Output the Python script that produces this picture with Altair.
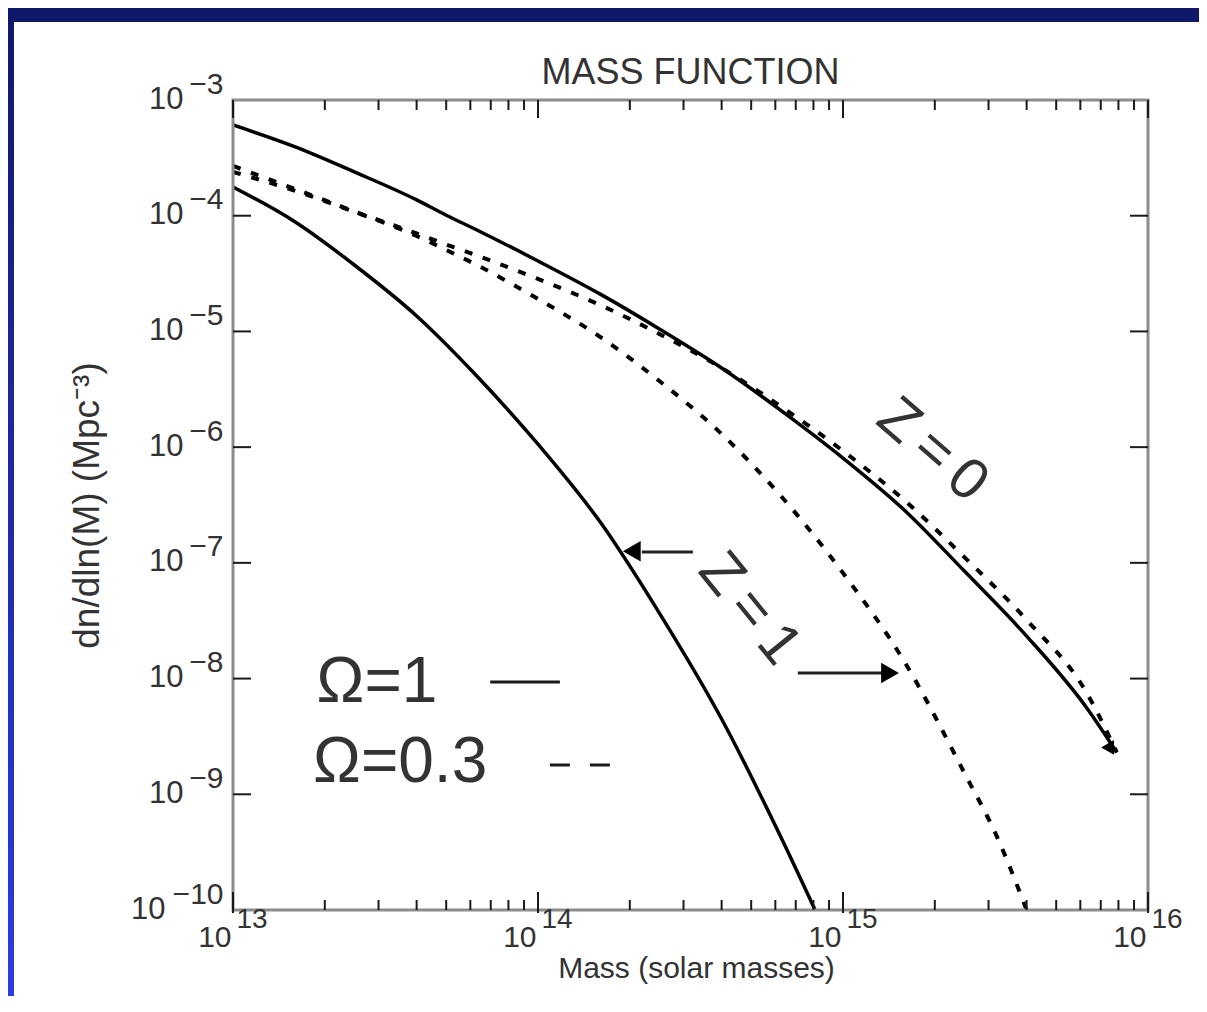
import altair as alt
import pandas as pd

# ---------------- texts ----------------
TITLE = "MASS FUNCTION"
X_TITLE = "Mass (solar masses)"
Y_TITLE = "dn/dln(M) (Mpc\u207b\u00b3)"
LEGEND_TEXT = ["\u03a9=1", "\u03a9=0.3"]
Z_TEXT = ["Z\u2009=\u20090", "Z\u2009=\u20091"]

# ---------------- axes ----------------
X_DOMAIN = [1e13, 1e16]
Y_DOMAIN = [1e-10, 1e-3]
X_LABELS = [1e13, 1e14, 1e15, 1e16]
Y_LABELS = [1e-3, 1e-4, 1e-5, 1e-6, 1e-7, 1e-8, 1e-9, 1e-10]
X_MAJOR = [1e13, 1e14, 1e15, 1e16]
X_MINOR = [2e13, 3e13, 4e13, 5e13, 6e13, 7e13, 8e13, 9e13,
           2e14, 3e14, 4e14, 5e14, 6e14, 7e14, 8e14, 9e14,
           2e15, 3e15, 4e15, 5e15, 6e15, 7e15, 8e15, 9e15]
Y_MAJOR = [1e-4, 1e-5, 1e-6, 1e-7, 1e-8, 1e-9]

# ---------------- curves ----------------
# Omega = 1, solid
M_O1_Z0 = [1e13, 1.6e13, 2.5e13, 4e13, 5e13, 6.3e13, 1e14, 1.6e14, 2.5e14, 4e14,
           6.3e14, 1e15, 1.6e15, 2.5e15, 4e15, 6.3e15, 7.9e15]
N_O1_Z0 = [6.08e-4, 3.93e-4, 2.39e-4, 1.37e-4, 1.01e-4, 7.53e-5, 4.06e-5, 2.10e-5,
           1.05e-5, 4.83e-6, 2.05e-6, 8.05e-7, 2.81e-7, 8.49e-8, 2.33e-8, 5.57e-9, 2.30e-9]
M_O1_Z1 = [1e13, 1.6e13, 2.5e13, 4e13, 6.3e13, 1e14, 1.6e14, 2.5e14, 4e14, 6.3e14, 8.1e14]
N_O1_Z1 = [1.77e-4, 8.83e-5, 3.75e-5, 1.36e-5, 4.12e-6, 1.06e-6, 2.25e-7, 3.68e-8,
           4.47e-9, 4.10e-10, 1.0e-10]
# Omega = 0.3, dashed
M_O03_Z0 = [1e13, 1.6e13, 2.5e13, 4e13, 5e13, 6.3e13, 1e14, 1.6e14, 2.5e14, 4e14,
            6.3e14, 1e15, 1.6e15, 2.5e15, 4e15, 6.3e15, 7.9e15]
N_O03_Z0 = [2.69e-4, 1.70e-4, 1.09e-4, 7.02e-5, 5.64e-5, 4.53e-5, 2.84e-5, 1.69e-5,
            9.51e-6, 4.83e-6, 2.22e-6, 9.27e-7, 3.42e-7, 1.12e-7, 3.21e-8, 7.50e-9, 2.30e-9]
M_O03_Z1 = [1e13, 1.6e13, 2.5e13, 4e13, 5e13, 6.3e13, 1e14, 1.6e14, 2.5e14, 4e14,
            6.3e14, 1e15, 1.6e15, 2.5e15, 3.2e15, 4e15]
N_O03_Z1 = [2.39e-4, 1.64e-4, 1.08e-4, 6.68e-5, 5.06e-5, 3.75e-5, 1.91e-5, 8.95e-6,
            3.73e-6, 1.30e-6, 3.71e-7, 8.17e-8, 1.36e-8, 1.53e-9, 4.28e-10, 1.0e-10]

# ---------------- annotations (data coordinates) ----------------
Z_LABEL_M = [1.96e15, 4.93e14]
Z_LABEL_N = [9.35e-7, 3.99e-8]
Z_LABEL_ANGLE = [41, 51]
LEGEND_M = [1.88e13, 1.83e13]
LEGEND_N = [6.27e-9, 1.28e-9]
LEG_SOLID_M = [6.97e13, 1.18e14]
LEG_SOLID_N = 9.33e-9
LEG_DASH_M = [1.094e14, 1.722e14]
LEG_DASH_N = 1.79e-9
ARROW_SHAFT_M1 = [2.19e14, 7.11e14]
ARROW_SHAFT_M2 = [3.22e14, 1.37e15]
ARROW_SHAFT_N = [1.24e-7, 1.117e-8]
ARROW_HEAD_M = [2.03e14, 1.426e15]
ARROW_HEAD_N = [1.26e-7, 1.117e-8]
ARROW_HEAD_SHAPE = ["triangle-left", "triangle-right"]
END_HEAD_M = [7.55e15]
END_HEAD_N = [2.45e-9]

W, H = 915, 810
FONT = "Liberation Sans"
TXT = "#333333"

xs = alt.Scale(type="log", domain=X_DOMAIN, nice=False)
ys = alt.Scale(type="log", domain=Y_DOMAIN, nice=False)


def frame(ms, ns, name):
    return pd.DataFrame({"mass": ms, "n": ns, "curve": name})


solid_df = pd.concat([frame(M_O1_Z0, N_O1_Z0, "O1 z0"), frame(M_O1_Z1, N_O1_Z1, "O1 z1")])
dashed_df = pd.concat([frame(M_O03_Z0, N_O03_Z0, "O03 z0"), frame(M_O03_Z1, N_O03_Z1, "O03 z1")])

one = pd.DataFrame({"k": [0]})

# background: blue gradient slide with a white panel
bg = alt.Chart(one).mark_rect(
    color=alt.Gradient(
        gradient="linear",
        stops=[alt.GradientStop(color="#10186a", offset=0),
               alt.GradientStop(color="#2c3ce2", offset=1)],
        x1=0, x2=0, y1=0, y2=1,
    )
).encode(x=alt.value(-225), x2=alt.value(W + 51), y=alt.value(-92), y2=alt.value(H + 86))

panel = alt.Chart(one).mark_rect(color="white").encode(
    x=alt.value(-219), x2=alt.value(W + 51), y=alt.value(-78), y2=alt.value(H + 86)
)

x_base_axis = alt.Axis(
    orient="bottom", values=X_LABELS, labelExpr="'10'", labelAlign="right",
    labelBaseline="middle", labelPadding=27, labelOffset=-2, labelFontSize=30,
    labelFont=FONT, labelColor=TXT, labelFlush=False, labelOverlap=False,
    ticks=False, tickSize=0, domain=False, grid=False, zindex=2,
    title=X_TITLE, titleFont=FONT, titleFontSize=30, titleFontWeight="normal",
    titleColor=TXT, titleX=463, titleY=58, titleAlign="center", titleBaseline="middle",
)
y_base_axis = alt.Axis(
    orient="left", values=Y_LABELS, labelExpr="'10'",
    labelAlign="right", labelBaseline="middle",
    labelPadding={"condition": {"test": "datum.value < 3e-10", "value": 68}, "value": 50},
    labelOffset=-1,
    labelFontSize=31, labelFont=FONT, labelColor=TXT, labelFlush=False, labelOverlap=False,
    ticks=False, tickSize=0, domain=False, grid=False, zindex=2,
    title=Y_TITLE, titleFont=FONT, titleFontSize=37, titleFontWeight="normal",
    titleColor=TXT, titleX=-146, titleY=405, titleAngle=270, titleAlign="center",
    titleBaseline="middle",
)
x_exp_axis = alt.Axis(
    orient="bottom", values=X_LABELS, labelExpr="'' + round(log(datum.value) / LN10)",
    labelAlign="left", labelBaseline="middle", labelPadding=9, labelOffset=3,
    labelFontSize=28, labelFont=FONT, labelColor=TXT, labelFlush=False, labelOverlap=False,
    ticks=False, tickSize=0, domain=False, grid=False, zindex=2, title=None,
)
y_exp_axis = alt.Axis(
    orient="left", values=Y_LABELS, labelExpr="'\u2212' + round(-log(datum.value) / LN10)",
    labelAlign="right", labelBaseline="middle", labelPadding=10, labelOffset=-16,
    labelFontSize=30, labelFont=FONT, labelColor=TXT, labelFlush=False, labelOverlap=False,
    ticks=False, tickSize=0, domain=False, grid=False, zindex=2, title=None,
)

solid = alt.Chart(solid_df).mark_line(
    color="black", strokeWidth=3.5, interpolate="monotone", clip=True
).encode(
    x=alt.X("mass:Q", scale=xs, axis=x_base_axis),
    y=alt.Y("n:Q", scale=ys, axis=y_base_axis),
    detail="curve:N",
)
dashed = alt.Chart(dashed_df).mark_line(
    color="black", strokeWidth=4, strokeDash=[8, 11], interpolate="monotone", clip=True
).encode(
    x=alt.X("mass:Q", scale=xs, axis=x_exp_axis),
    y=alt.Y("n:Q", scale=ys, axis=y_exp_axis),
    detail="curve:N",
)

# plot frame
box = alt.Chart(pd.DataFrame({"x0": [X_DOMAIN[0]], "x1": [X_DOMAIN[1]],
                              "y0": [Y_DOMAIN[0]], "y1": [Y_DOMAIN[1]]})).mark_rect(
    filled=False, stroke="#8c8c8c", strokeWidth=3
).encode(
    x=alt.X("x0:Q", scale=xs, axis=None), x2="x1:Q",
    y=alt.Y("y0:Q", scale=ys, axis=None), y2="y1:Q",
)

# inward ticks on all four sides
xmaj = pd.DataFrame({"v": X_MAJOR})
xmin = pd.DataFrame({"v": X_MINOR})
ymaj = pd.DataFrame({"v": Y_MAJOR})
TICK = dict(color="#1a1a1a", strokeWidth=2)
ticks = [
    alt.Chart(xmaj).mark_rule(**TICK).encode(x=alt.X("v:Q", scale=xs, axis=None), y=alt.value(H + 3), y2=alt.value(H - 18)),
    alt.Chart(xmaj).mark_rule(**TICK).encode(x=alt.X("v:Q", scale=xs, axis=None), y=alt.value(0), y2=alt.value(18)),
    alt.Chart(xmin).mark_rule(**TICK).encode(x=alt.X("v:Q", scale=xs, axis=None), y=alt.value(H), y2=alt.value(H - 10)),
    alt.Chart(xmin).mark_rule(**TICK).encode(x=alt.X("v:Q", scale=xs, axis=None), y=alt.value(0), y2=alt.value(10)),
    alt.Chart(ymaj).mark_rule(**TICK).encode(y=alt.Y("v:Q", scale=ys, axis=None), x=alt.value(0), x2=alt.value(18)),
    alt.Chart(ymaj).mark_rule(**TICK).encode(y=alt.Y("v:Q", scale=ys, axis=None), x=alt.value(W), x2=alt.value(W - 18)),
]

# Z labels
zlab_df = pd.DataFrame({"m": Z_LABEL_M, "n": Z_LABEL_N, "t": Z_TEXT})
zlabels = [
    alt.Chart(zlab_df.iloc[[i]]).mark_text(
        angle=Z_LABEL_ANGLE[i], fontSize=58, font=FONT, color=TXT, align="center", baseline="middle"
    ).encode(x=alt.X("m:Q", scale=xs, axis=None), y=alt.Y("n:Q", scale=ys, axis=None), text="t:N")
    for i in range(2)
]

# legend written inside the plot
leg_df = pd.DataFrame({"m": LEGEND_M, "n": LEGEND_N, "t": LEGEND_TEXT})
legend_text = alt.Chart(leg_df).mark_text(
    fontSize=64, font=FONT, color=TXT, align="left", baseline="alphabetic"
).encode(x=alt.X("m:Q", scale=xs, axis=None), y=alt.Y("n:Q", scale=ys, axis=None), text="t:N")

leg_solid = alt.Chart(pd.DataFrame({"a": [LEG_SOLID_M[0]], "b": [LEG_SOLID_M[1]], "n": [LEG_SOLID_N]})).mark_rule(
    color="#1a1a1a", strokeWidth=3
).encode(x=alt.X("a:Q", scale=xs, axis=None), x2="b:Q", y=alt.Y("n:Q", scale=ys, axis=None))
leg_dash = alt.Chart(pd.DataFrame({"a": [LEG_DASH_M[0]], "b": [LEG_DASH_M[1]], "n": [LEG_DASH_N]})).mark_rule(
    color="#1a1a1a", strokeWidth=3, strokeDash=[20, 20]
).encode(x=alt.X("a:Q", scale=xs, axis=None), x2="b:Q", y=alt.Y("n:Q", scale=ys, axis=None))

# arrows
shaft_df = pd.DataFrame({"a": ARROW_SHAFT_M1, "b": ARROW_SHAFT_M2, "n": ARROW_SHAFT_N})
shafts = alt.Chart(shaft_df).mark_rule(color="#222", strokeWidth=3).encode(
    x=alt.X("a:Q", scale=xs, axis=None), x2="b:Q", y=alt.Y("n:Q", scale=ys, axis=None)
)
head_df = pd.DataFrame({"m": ARROW_HEAD_M, "n": ARROW_HEAD_N, "s": ARROW_HEAD_SHAPE})
heads = alt.Chart(head_df).mark_point(filled=True, color="black", size=420, opacity=1).encode(
    x=alt.X("m:Q", scale=xs, axis=None), y=alt.Y("n:Q", scale=ys, axis=None),
    shape=alt.Shape("s:N", scale=None, legend=None),
)
end_head = alt.Chart(pd.DataFrame({"m": END_HEAD_M, "n": END_HEAD_N})).mark_point(
    filled=True, color="black", size=220, opacity=1, shape="triangle-right", angle=60
).encode(x=alt.X("m:Q", scale=xs, axis=None), y=alt.Y("n:Q", scale=ys, axis=None))

chart = alt.layer(
    bg, panel, solid, dashed, box, *ticks, *zlabels, legend_text, leg_solid, leg_dash,
    shafts, heads, end_head,
).resolve_axis(x="independent", y="independent").properties(
    width=W, height=H,
    title=alt.TitleParams(text=TITLE, font=FONT, fontSize=36, fontWeight="normal",
                          color=TXT, anchor="middle", offset=0, dy=112, baseline="alphabetic"),
    padding={"left": 225, "top": 92, "right": 51, "bottom": 86},
    autosize=alt.AutoSizeParams(type="none"),
).configure_view(stroke="transparent").configure(background="white")

chart.save("out.html", embed_options={"renderer": "svg", "actions": False})
